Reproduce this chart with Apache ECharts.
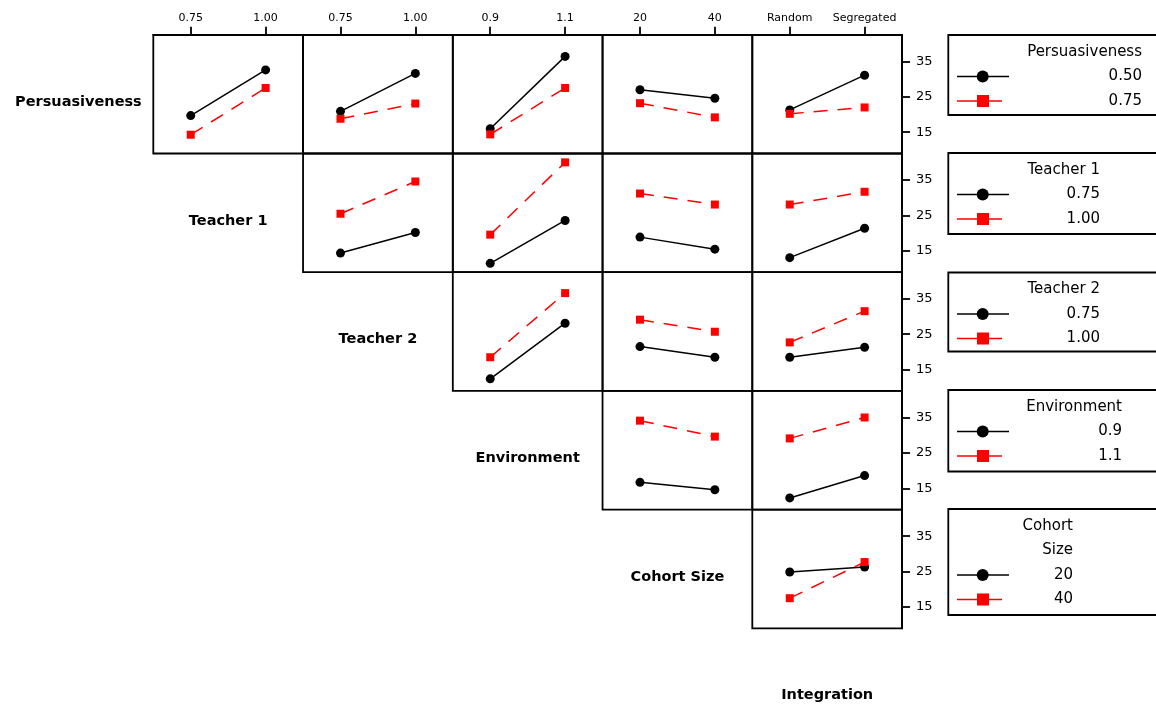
<!DOCTYPE html>
<html>
<head>
<meta charset="utf-8">
<title>Interaction Plot Matrix</title>
<script src="https://cdn.jsdelivr.net/npm/echarts@6/dist/echarts.min.js"></script>
<style>
  html, body { margin: 0; padding: 0; background: #fff; }
  #chart { width: 1156px; height: 705px; }
</style>
</head>
<body>
<div id="chart"></div>
<script>
// Factor names and their two levels
const factorNames = ['Persuasiveness', 'Teacher 1', 'Teacher 2', 'Environment', 'Cohort Size', 'Integration'];
const persuasivenessLevels = ['0.50', '0.75'];
const teacher1Levels = ['0.75', '1.00'];
const teacher2Levels = ['0.75', '1.00'];
const environmentLevels = ['0.9', '1.1'];
const cohortSizeLevels = ['20', '40'];
const integrationLevels = ['Random', 'Segregated'];
const factorLevels = [persuasivenessLevels, teacher1Levels, teacher2Levels,
                      environmentLevels, cohortSizeLevels, integrationLevels];

// Mean response tick labels (shared y scale)
const yTicks = [15, 25, 35];
const yMin = 9, yMax = 42.5;

// Cell means: [trace low level, trace high level], each over the x-factor levels
// Trace: Persuasiveness
const persuasiveness_teacher1    = [[19.7, 32.6], [14.3, 27.5]];
const persuasiveness_teacher2    = [[20.9, 31.6], [18.8, 23.1]];
const persuasiveness_environment = [[16.0, 36.4], [14.4, 27.5]];
const persuasiveness_cohortSize  = [[27.0, 24.6], [23.2, 19.2]];
const persuasiveness_integration = [[21.3, 31.1], [20.2, 22.0]];
// Trace: Teacher 1
const teacher1_teacher2    = [[14.4, 20.2], [25.5, 34.6]];
const teacher1_environment = [[11.5, 23.6], [19.6, 40.0]];
const teacher1_cohortSize  = [[18.9, 15.5], [31.2, 28.1]];
const teacher1_integration = [[13.1, 21.4], [28.1, 31.7]];
// Trace: Teacher 2
const teacher2_environment = [[12.4, 28.1], [18.5, 36.6]];
const teacher2_cohortSize  = [[21.5, 18.5], [29.1, 25.7]];
const teacher2_integration = [[18.5, 21.3], [22.7, 31.5]];
// Trace: Environment
const environment_cohortSize  = [[16.7, 14.6], [34.1, 29.6]];
const environment_integration = [[12.3, 18.6], [29.1, 35.0]];
// Trace: Cohort Size
const cohortSize_integration = [[24.9, 26.3], [17.5, 27.7]];

// Panels of the upper triangle: row = trace factor, col = x factor
const panels = [
  { row: 0, col: 1, means: persuasiveness_teacher1 },
  { row: 0, col: 2, means: persuasiveness_teacher2 },
  { row: 0, col: 3, means: persuasiveness_environment },
  { row: 0, col: 4, means: persuasiveness_cohortSize },
  { row: 0, col: 5, means: persuasiveness_integration },
  { row: 1, col: 2, means: teacher1_teacher2 },
  { row: 1, col: 3, means: teacher1_environment },
  { row: 1, col: 4, means: teacher1_cohortSize },
  { row: 1, col: 5, means: teacher1_integration },
  { row: 2, col: 3, means: teacher2_environment },
  { row: 2, col: 4, means: teacher2_cohortSize },
  { row: 2, col: 5, means: teacher2_integration },
  { row: 3, col: 4, means: environment_cohortSize },
  { row: 3, col: 5, means: environment_integration },
  { row: 4, col: 5, means: cohortSize_integration }
];

// Layout of the matrix
const FONT = '"DejaVu Sans", Verdana, sans-serif';
const cellW = 149.75, cellH = 118.7;
const matrixLeft = 153.3 - cellW;   // left edge of the (virtual) first column
const matrixTop = 34.8;
const cellLeft = c => matrixLeft + c * cellW;
const cellTop = r => matrixTop + r * cellH;

const frame = { color: '#000', width: 1.8 };

const grids = panels.map(p => ({
  left: cellLeft(p.col), top: cellTop(p.row), width: cellW, height: cellH,
  show: true, borderColor: '#000', borderWidth: 1.8, backgroundColor: 'transparent'
}));

const xAxes = panels.map((p, i) => {
  const top = p.row === 0;
  return {
    gridIndex: i, type: 'category', data: factorLevels[p.col], boundaryGap: true,
    position: 'top',
    axisLine: { show: top, lineStyle: frame },
    axisTick: { show: top, length: 8, inside: false, alignWithLabel: true, interval: 0, lineStyle: frame },
    axisLabel: { show: top, interval: 0, hideOverlap: false, margin: 11, color: '#000', fontFamily: FONT, fontSize: 11 },
    splitLine: { show: false }
  };
});

const yAxes = panels.map((p, i) => {
  const right = p.col === 5;
  return {
    gridIndex: i, type: 'value', min: yMin, max: yMax, position: 'right',
    axisLine: { show: right, lineStyle: frame },
    axisTick: { show: right, length: 8, inside: false, customValues: yTicks, lineStyle: frame },
    axisLabel: { show: right, customValues: yTicks, margin: 14, color: '#000', fontFamily: FONT, fontSize: 13 },
    splitLine: { show: false }
  };
});

const series = [];
panels.forEach((p, i) => {
  series.push({
    type: 'line', xAxisIndex: i, yAxisIndex: i, data: p.means[0],
    symbol: 'circle', symbolSize: 9, z: 3,
    lineStyle: { color: '#000', width: 1.5 },
    itemStyle: { color: '#000' }
  });
  series.push({
    type: 'line', xAxisIndex: i, yAxisIndex: i, data: p.means[1],
    symbol: 'rect', symbolSize: 8, z: 4,
    lineStyle: { color: '#ff0000', width: 1.5, type: [14, 10] },
    itemStyle: { color: '#ff0000' }
  });
});

const graphics = [];

// Factor names on the diagonal
factorNames.forEach((name, k) => {
  graphics.push({
    type: 'text', silent: true,
    style: {
      text: name, x: cellLeft(k) + cellW / 2, y: cellTop(k) + cellH / 2 + 8,
      align: 'center', verticalAlign: 'middle',
      fontFamily: FONT, fontSize: 14.5, fontWeight: 'bold', fill: '#000'
    }
  });
});

// Legend boxes, one per trace factor
const legendBoxes = [
  { top: 35,    height: 80,  right: 1142, title: ['Persuasiveness'] },
  { top: 153,   height: 81,  right: 1100, title: ['Teacher 1'] },
  { top: 272.5, height: 79,  right: 1100, title: ['Teacher 2'] },
  { top: 390,   height: 81.5, right: 1122, title: ['Environment'] },
  { top: 509,   height: 106, right: 1073, title: ['Cohort', 'Size'] }
];
const legendLeft = 948.3;
legendBoxes.forEach((b, k) => {
  graphics.push({
    type: 'rect', silent: true,
    shape: { x: legendLeft, y: b.top, width: 240, height: b.height },
    style: { fill: '#fff', stroke: '#000', lineWidth: 1.8 }
  });
  const lines = b.title.concat(factorLevels[k]);
  lines.forEach((t, j) => {
    graphics.push({
      type: 'text', silent: true,
      style: {
        text: t, x: b.right, y: b.top + 17 + j * 24.5,
        align: 'right', verticalAlign: 'middle',
        fontFamily: FONT, fontSize: 15, fill: '#000'
      }
    });
  });
  const yBlack = b.top + 17 + b.title.length * 24.5;
  const yRed = yBlack + 24.5;
  graphics.push({
    type: 'line', silent: true,
    shape: { x1: 957, y1: yBlack, x2: 1009, y2: yBlack },
    style: { stroke: '#000', lineWidth: 1.5 }
  });
  graphics.push({
    type: 'circle', silent: true,
    shape: { cx: 982.7, cy: yBlack, r: 6 },
    style: { fill: '#000' }
  });
  graphics.push({
    type: 'line', silent: true,
    shape: { x1: 957, y1: yRed, x2: 1002, y2: yRed },
    style: { stroke: '#ff0000', lineWidth: 1.5 }
  });
  graphics.push({
    type: 'rect', silent: true,
    shape: { x: 977, y: yRed - 6, width: 12, height: 12 },
    style: { fill: '#ff0000' }
  });
});

const chart = echarts.init(document.getElementById('chart'), null, { renderer: 'canvas' });
chart.setOption({
  animation: false,
  backgroundColor: '#fff',
  grid: grids,
  xAxis: xAxes,
  yAxis: yAxes,
  series: series,
  graphic: graphics
});
</script>
</body>
</html>
